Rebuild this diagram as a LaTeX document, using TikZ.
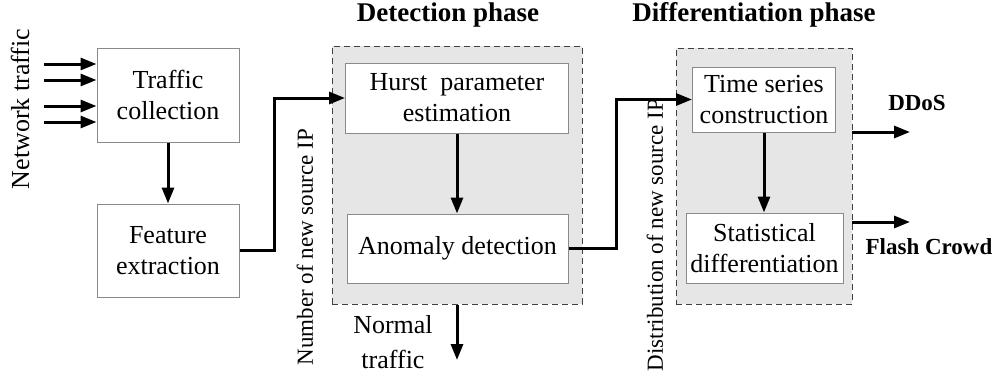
\documentclass[tikz,border=0pt]{standalone}
\usepackage{fontspec}
\setmainfont{Liberation Serif}
\usetikzlibrary{arrows.meta,calc}
\definecolor{phasefill}{HTML}{E6E6E6}
\definecolor{boxline}{HTML}{8A8A8A}
\definecolor{dashline}{HTML}{404040}
\tikzset{
  procbox/.style={draw=boxline,line width=1pt,fill=white,align=center,inner sep=0pt,
    font=\fontsize{26}{31}\selectfont},
  phasebox/.style={draw=dashline,line width=1pt,dash pattern=on 6pt off 4pt,fill=phasefill,inner sep=0pt},
  flow/.style={line width=3pt,-{Triangle[length=16pt,width=12pt]}},
  title/.style={font=\fontsize{27}{32}\selectfont\bfseries},
  outlabel/.style={font=\fontsize{23}{28}\selectfont\bfseries},
  sidelabel/.style={font=\fontsize{23}{28}\selectfont,rotate=90},
}
\begin{document}
\begin{tikzpicture}[x=1pt,y=-1pt]
\useasboundingbox (0,0) rectangle (997,381);
% phase containers
\node[phasebox,minimum width=250pt,minimum height=258pt] (det) at (457,175) {};
\node[phasebox,minimum width=176pt,minimum height=256pt] (diff) at (764,176) {};
% boxes
\node[procbox,minimum width=142pt,minimum height=94pt] (tc) at (168,95) {Traffic\\collection};
\node[procbox,minimum width=142pt,minimum height=93pt] (fe) at (168,250.5) {Feature\\extraction};
\node[procbox,minimum width=223pt,minimum height=70pt] (hu) at (457,98) {Hurst~ parameter\\estimation};
\node[procbox,minimum width=221pt,minimum height=69pt] (ad) at (457.5,248.5) {Anomaly detection};
\node[procbox,minimum width=143pt,minimum height=65pt] (ts) at (764,99.5) {Time series\\construction};
\node[procbox,minimum width=157pt,minimum height=70pt] (sd) at (764.5,248) {Statistical\\differentiation};
% titles and labels
\node[title] (t1) at (448,15) {Detection phase};
\node[title] (t2) at (754,15) {Differentiation phase};
\node[font=\fontsize{26}{31}\selectfont,rotate=90] (nt) at (20,109) {Network traffic};
\node[sidelabel] (l1) at (305,247) {Number of new source IP};
\node[sidelabel] (l2) at (655,235) {Distribution of new source IP};
\node[font=\fontsize{26}{35}\selectfont,align=center] (norm) at (393,342) {Normal\\traffic};
\node[outlabel] (ddos) at (917,103) {DDoS};
\node[outlabel] (fcl) at (929,247) {Flash Crowd};
% coordinates
\coordinate (in1) at (44,64);
\coordinate (in2) at (44,80);
\coordinate (in3) at (44,106);
\coordinate (in4) at (44,122);
\coordinate (fx) at (274,250.5);
\coordinate (ax) at (616,248.5);
\coordinate (nend) at (457,360);
\coordinate (d0) at (852,132);
\coordinate (d1) at (910,132);
\coordinate (f0) at (852,222);
\coordinate (f1) at (910,222);
% connectors
\foreach \i in {in1,in2,in3,in4} \draw[flow] (\i) -- (\i -| tc.west);
\draw[flow] (tc.south) -- (fe.north);
\draw[flow] (fe.east) -- (fx) |- (hu.west);
\draw[flow] (hu.south) -- (hu.south |- ad.north);
\draw[flow] (det.south) -- (nend);
\draw[flow] (ad.east) -- (ax) |- (ts.west);
\draw[flow] (ts.south) -- (ts.south |- sd.north);
\draw[flow] (d0) -- (d1);
\draw[flow] (f0) -- (f1);
\end{tikzpicture}
\end{document}
